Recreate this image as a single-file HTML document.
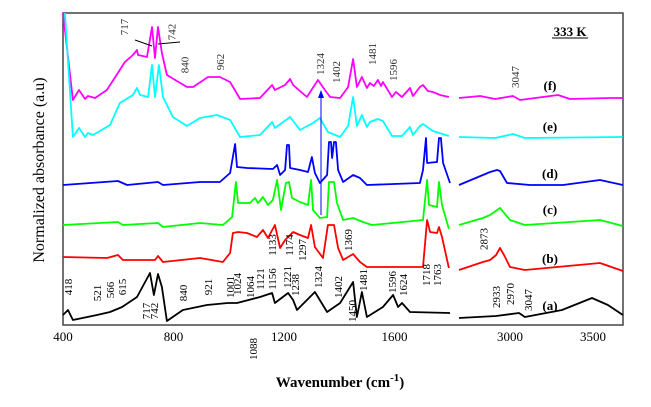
<!DOCTYPE html>
<html><head><meta charset="utf-8"><style>
body{margin:0;background:#fff;width:651px;height:402px;overflow:hidden}
svg{font-family:"Liberation Serif",serif}
</style></head><body>
<svg id="chart" width="651" height="402" viewBox="0 0 651 402" xmlns="http://www.w3.org/2000/svg">
<rect x="63" y="13" width="560" height="312" fill="none" stroke="#444" stroke-width="1.5"/>
<g id="series"></g>
<g id="ticks"></g>
<text transform="translate(44,170) rotate(-90)" text-anchor="middle" font-size="16">Normalized absorbance (a.u)</text>
<text x="340" y="387" text-anchor="middle" font-size="15" font-weight="bold">Wavenumber (cm<tspan font-size="11" dy="-6">-1</tspan><tspan dy="6">)</tspan></text>
<text x="570" y="36" text-anchor="middle" font-size="13" font-weight="bold">333 K</text>
<line x1="552" y1="38" x2="588" y2="38" stroke="#000" stroke-width="1"/>
<g font-size="13" font-weight="bold" text-anchor="middle">
<text x="550" y="90">(f)</text>
<text x="550" y="131">(e)</text>
<text x="550" y="178">(d)</text>
<text x="550" y="214">(c)</text>
<text x="550" y="263">(b)</text>
<text x="550" y="310">(a)</text>
</g>
<line x1="321" y1="215" x2="321" y2="96" stroke="#0000ff" stroke-width="1"/>
<polygon points="321,90 318,98 324,98" fill="#0000ff"/>
<line x1="135" y1="40" x2="152" y2="46" stroke="#000" stroke-width="1"/>
<line x1="180" y1="42" x2="158" y2="44" stroke="#000" stroke-width="1"/>
<g id="annots"></g>
</svg>
<script>
const magentaL=[[400,312],[436,225],[458,235],[480,226],[490,229],[516,227],[559,235],[624,263],[653,270],[668,275],[672,270],[704,268],[722,298],[733,267],[744,298],[758,272],[776,250],[849,238],[871,238],[925,248],[968,248],[1005,243],[1041,226],[1113,227],[1157,240],[1167,235],[1204,240],[1222,246],[1233,240],[1283,228],[1323,245],[1348,235],[1367,228],[1403,227],[1432,238],[1450,266],[1464,238],[1482,248],[1500,237],[1511,242],[1525,239],[1540,245],[1551,239],[1558,243],[1591,228],[1605,233],[1627,228],[1656,237],[1667,229],[1692,238],[1703,240],[1721,234],[1739,233],[1765,230],[1797,228]];
const magentaR=[[2693,227],[2820,229],[2910,226],[3018,229],[3060,225],[3289,230],[3361,226],[3602,227],[3680,227]];
const cyanL=[[407,312],[436,188],[458,197],[480,188],[490,192],[509,190],[570,200],[606,222],[653,230],[668,237],[679,230],[708,228],[722,260],[733,228],[747,260],[762,228],[798,208],[849,199],[896,207],[957,210],[1005,205],[1041,188],[1113,190],[1157,203],[1167,197],[1222,208],[1258,195],[1305,202],[1330,207],[1359,193],[1403,188],[1432,199],[1450,228],[1464,199],[1482,210],[1500,198],[1511,203],[1540,206],[1558,204],[1591,189],[1627,189],[1656,198],[1667,190],[1692,199],[1703,201],[1739,194],[1797,189]];
const cyanR=[[2693,188],[2910,187],[3018,191],[3090,187],[3680,188]];
const blueL=[[400,140],[599,144],[632,140],[744,143],[762,140],[896,143],[968,143],[1005,152],[1023,181],[1030,158],[1066,157],[1160,156],[1175,160],[1186,150],[1204,155],[1211,180],[1218,180],[1222,157],[1258,155],[1287,153],[1301,168],[1312,152],[1330,142],[1356,150],[1363,183],[1370,183],[1374,167],[1381,183],[1388,183],[1396,155],[1414,143],[1450,150],[1475,147],[1500,140],[1692,142],[1703,155],[1714,187],[1718,162],[1754,163],[1761,187],[1768,187],[1776,162],[1801,142]];
const blueR=[[2693,140],[2837,150],[2880,153],[2922,155],[2940,154],[2982,142],[3120,140],[3319,140],[3542,145],[3680,140]];
const greenL=[[400,100],[599,103],[617,100],[744,102],[762,98],[896,102],[979,100],[1012,108],[1026,143],[1034,122],[1077,122],[1095,127],[1106,122],[1124,128],[1142,120],[1160,125],[1175,145],[1189,115],[1207,142],[1218,143],[1229,127],[1258,123],[1287,120],[1298,145],[1305,115],[1330,107],[1356,108],[1363,143],[1381,143],[1392,122],[1414,105],[1450,107],[1486,103],[1518,100],[1703,105],[1718,145],[1725,120],[1754,118],[1761,143],[1772,120],[1797,96]];
const greenR=[[2693,100],[2837,107],[2880,110],[2940,117],[3000,105],[3090,100],[3542,105],[3680,99]];
const redL=[[400,68],[559,67],[599,70],[617,65],[733,65],[744,69],[762,63],[896,67],[979,63],[1005,72],[1015,92],[1034,93],[1066,92],[1102,88],[1124,95],[1142,87],[1167,100],[1186,77],[1204,85],[1233,93],[1258,90],[1287,87],[1298,100],[1312,78],[1341,67],[1359,100],[1381,100],[1396,77],[1414,65],[1450,71],[1475,63],[1500,58],[1703,58],[1718,105],[1729,93],[1754,92],[1761,98],[1772,88],[1797,57]];
const redR=[[2693,55],[2837,63],[2880,65],[2916,70],[2940,77],[2964,70],[3000,58],[3090,55],[3542,62],[3680,54]];
const blackL=[[400,10],[418,15],[436,5],[523,10],[570,13],[614,18],[668,28],[715,52],[729,30],[744,51],[758,38],[776,4],[834,15],[921,20],[997,22],[1030,22],[1113,28],[1157,32],[1167,22],[1215,32],[1233,25],[1247,15],[1312,33],[1356,13],[1403,22],[1450,43],[1464,8],[1482,33],[1500,8],[1558,18],[1595,30],[1613,18],[1627,22],[1656,13],[1801,12]];
const blackR=[[2693,7],[2916,9],[3054,12],[3090,8],[3313,15],[3494,27],[3590,20],[3680,10]];
const ticksLeft=[400,800,1200,1600];
const ticksRight=[3000,3500];
const annotLabels=[["418",418,38],["521",523,32],["566",570,35],["615",614,38],["717",700,14],["742",730,14],["840",834,32],["921",925,38],["1001",1005,38],["1024",1030,41],["1064",1077,38],["1121",1113,46],["1156",1157,46],["1221",1211,48],["1238",1240,40],["1324",1323,48],["1402",1396,38],["1450",1447,14],["1481",1486,45],["1596",1591,43],["1624",1631,40],["1088",1088,-24],["1133",1157,80],["1174",1218,80],["1297",1265,75],["1369",1432,85],["1718",1714,50],["1763",1754,50],["2873",2840,86],["2933",2916,28],["2970",3000,31],["3047",3108,25],["717m",620,298],["742m",793,293],["840m",840,260],["962",968,263],["1324m",1330,261],["1402m",1388,253],["1481m",1518,271],["1596m",1594,255],["3047m",3030,248]];
const NS="http://www.w3.org/2000/svg";
function xL(w){return 63+(w-400)*110.5/400;}
function xR(w){return 510+(w-3000)*83/500;}
function yS(v){return 325-v;}
const g=document.getElementById('series');
function draw(data,fx,color,name){
  const p=document.createElementNS(NS,'polyline');
  p.setAttribute('points',data.map(d=>fx(d[0]).toFixed(1)+','+yS(d[1]).toFixed(1)).join(' '));
  p.setAttribute('fill','none');p.setAttribute('stroke',color);p.setAttribute('stroke-width','1.8');
  p.setAttribute('stroke-linejoin','round');
  
  
  g.appendChild(p);
}
draw(magentaL,xL,'#ff00ff','spectrum-f-left');draw(magentaR,xR,'#ff00ff','spectrum-f-right');
draw(cyanL,xL,'#00ffff','spectrum-e-left');draw(cyanR,xR,'#00ffff','spectrum-e-right');
draw(blueL,xL,'#0000ff','spectrum-d-left');draw(blueR,xR,'#0000ff','spectrum-d-right');
draw(greenL,xL,'#00ff00','spectrum-c-left');draw(greenR,xR,'#00ff00','spectrum-c-right');
draw(redL,xL,'#ff0000','spectrum-b-left');draw(redR,xR,'#ff0000','spectrum-b-right');
draw(blackL,xL,'#000000','spectrum-a-left');draw(blackR,xR,'#000000','spectrum-a-right');
const tg=document.getElementById('ticks');
function tick(w,fx){
  const x=fx(w);
  const t=document.createElementNS(NS,'text');
  t.setAttribute('x',x);t.setAttribute('y',341);t.setAttribute('text-anchor','middle');t.setAttribute('font-size','13');
  t.textContent=w;
  
  
  tg.appendChild(t);
}
ticksLeft.forEach(w=>tick(w,xL));ticksRight.forEach(w=>tick(w,xR));
const ag=document.getElementById('annots');
annotLabels.forEach(a=>{
  const w=a[1];const x=w>2000?xR(w):xL(w);const y=yS(a[2]);
  const t=document.createElementNS(NS,'text');
  t.setAttribute('transform','translate('+(x+4)+','+y+') rotate(-90)');
  t.setAttribute('font-size','11');
  t.setAttribute('text-anchor','middle');
  t.setAttribute('fill', a[0].endsWith('m')||a[0]==='962'?'#333':'#000');
  t.textContent=a[0].replace('m','');
  
  
  ag.appendChild(t);
});
</script>
</body></html>
